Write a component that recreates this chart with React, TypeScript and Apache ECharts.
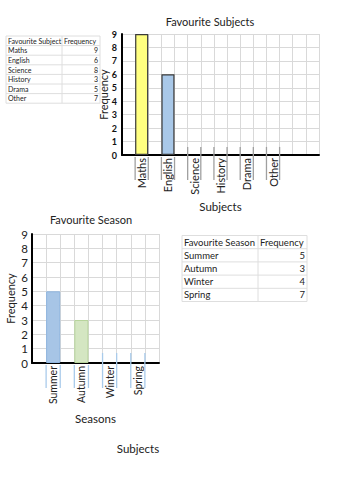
import React, { useEffect, useRef } from "react";
import * as echarts from "echarts";

// ---- Data ----
const subjects = ["Maths", "English", "Science", "History", "Drama", "Other"];
const subjectFrequency = [9, 6, 8, 3, 5, 7];
// bars drawn in the worksheet chart (the rest left blank for pupils)
const subjectBarsDrawn: (number | null)[] = [9, 6, null, null, null, null];
const subjectBarColors = ["#ffff80", "#a9c8e8"];

const seasons = ["Summer", "Autumn", "Winter", "Spring"];
const seasonFrequency = [5, 3, 4, 7];
const seasonBarsDrawn: (number | null)[] = [5, 3, null, null];
const seasonBarColors = ["#a7c5e6", "#d4e6c2"];
const seasonBarBorders = ["#8fb5df", "#b7d49c"];

const FONT = "Lato";

function slotCats(labels: string[], total: number): string[] {
  const arr: string[] = new Array(total).fill("");
  labels.forEach((l, i) => (arr[2 * i + 1] = l));
  return arr;
}

function slotBars(values: (number | null)[], total: number, colors: string[], borders: string[] | null, borderW: number) {
  const arr: any[] = new Array(total).fill("-");
  values.forEach((v, i) => {
    if (v != null) {
      arr[2 * i + 1] = {
        value: v,
        itemStyle: {
          color: colors[i],
          borderColor: borders ? borders[i] : "#3a3a3a",
          borderWidth: borderW,
        },
      };
    }
  });
  return arr;
}

function frameData(values: (number | null)[], above: number) {
  return values.map((v, i) => [2 * i + 1, v != null ? 0 : above]);
}

function frameRender(stroke: string, depth: number, lw: number) {
  return (params: any, api: any) => {
    const slot = api.value(0);
    const ab = api.value(1);
    const top = api.coord([slot, ab]);
    const base = api.coord([slot, 0]);
    const w = api.size([1, 0])[0];
    const xa = base[0] - w / 2;
    const xb = base[0] + w / 2;
    const y0 = ab > 0 ? top[1] : base[1] + 2;
    const y1 = base[1] + depth;
    return {
      type: "group",
      children: [
        { type: "line", shape: { x1: xa, y1: y0, x2: xa, y2: y1 }, style: { stroke, lineWidth: lw } },
        { type: "line", shape: { x1: xb, y1: y0, x2: xb, y2: y1 }, style: { stroke, lineWidth: lw } },
      ],
    };
  };
}

function buildTable(
  x0: number, xSplit: number, x1: number, y0: number, rowH: number, fontSize: number,
  header: [string, string], names: string[], values: number[]
) {
  const children: any[] = [];
  const rows = [header, ...names.map((n, i) => [n, String(values[i])])];
  const n = rows.length;
  for (let r = 0; r <= n; r++) {
    children.push({
      type: "line",
      shape: { x1: x0, y1: y0 + r * rowH, x2: x1, y2: y0 + r * rowH },
      style: { stroke: "#dedede", lineWidth: 1 },
    });
  }
  [x0, xSplit, x1].forEach((x) =>
    children.push({
      type: "line",
      shape: { x1: x, y1: y0, x2: x, y2: y0 + n * rowH },
      style: { stroke: "#dedede", lineWidth: 1 },
    })
  );
  rows.forEach((row, r) => {
    const cy = y0 + r * rowH + rowH / 2;
    children.push({
      type: "text",
      x: x0 + 2,
      y: cy,
      style: { text: row[0], fontSize, fontFamily: FONT, fill: "#222", align: "left", verticalAlign: "middle" },
    });
    children.push({
      type: "text",
      x: r === 0 ? xSplit + 2 : x1 - 2,
      y: cy,
      style: {
        text: row[1], fontSize, fontFamily: FONT, fill: "#222",
        align: r === 0 ? "left" : "right", verticalAlign: "middle",
      },
    });
  });
  return { type: "group", children };
}

export default function App() {
  const ref = useRef<HTMLDivElement>(null);
  useEffect(() => {
    if (!ref.current) return;
    const chart = echarts.init(ref.current, null, { renderer: "svg" });
    const gridLine = { show: true, lineStyle: { color: "#d9d9d9", width: 1 } };
    const option: any = {
      animation: false,
      backgroundColor: "#ffffff",
      textStyle: { fontFamily: FONT },
      title: [
        {
          text: "Favourite Subjects",
          left: 210, top: 16, padding: 0, textAlign: "center",
          textStyle: { fontFamily: FONT, fontSize: 11, fontWeight: "normal", color: "#222" },
        },
        {
          text: "Favourite Season",
          left: 91, top: 214, padding: 0, textAlign: "center",
          textStyle: { fontFamily: FONT, fontSize: 11, fontWeight: "normal", color: "#222" },
        },
      ],
      grid: [
        { left: 122, top: 34, width: 197, height: 121 },
        { left: 32, top: 234, width: 127, height: 129 },
      ],
      xAxis: [
        {
          type: "category", gridIndex: 0,
          data: slotCats(subjects, 15),
          boundaryGap: true,
          name: "Subjects", nameLocation: "middle", nameGap: 45,
          nameMoveOverlap: false,
          nameTextStyle: { fontFamily: FONT, fontSize: 11.5, color: "#222" },
          axisLine: { lineStyle: { color: "#000", width: 2 } },
          axisTick: { show: false },
          splitLine: gridLine,
          axisLabel: { interval: 0, rotate: 90, margin: 3, fontFamily: FONT, fontSize: 11, color: "#222" },
        },
        {
          type: "category", gridIndex: 1,
          data: slotCats(seasons, 9),
          boundaryGap: true,
          name: "Seasons", nameLocation: "middle", nameGap: 49,
          nameMoveOverlap: false,
          nameTextStyle: { fontFamily: FONT, fontSize: 11.5, color: "#222" },
          axisLine: { lineStyle: { color: "#000", width: 2 } },
          axisTick: { show: false },
          splitLine: gridLine,
          axisLabel: { interval: 0, rotate: 90, margin: 3, fontFamily: FONT, fontSize: 10.5, color: "#222" },
        },
      ],
      yAxis: [
        {
          type: "value", gridIndex: 0, min: 0, max: 9, interval: 1,
          name: "Frequency", nameLocation: "middle", nameGap: 13, nameRotate: 90,
          nameMoveOverlap: false,
          nameTextStyle: { fontFamily: FONT, fontSize: 11, color: "#222" },
          axisLine: { show: true, lineStyle: { color: "#000", width: 2 } },
          axisTick: { show: false },
          splitLine: gridLine,
          axisLabel: { margin: 5, fontFamily: FONT, fontSize: 9, fontWeight: "bold", color: "#111" },
        },
        {
          type: "value", gridIndex: 1, min: 0, max: 9, interval: 1,
          name: "Frequency", nameLocation: "middle", nameGap: 16, nameRotate: 90,
          nameMoveOverlap: false,
          nameTextStyle: { fontFamily: FONT, fontSize: 11, color: "#222" },
          axisLine: { show: true, lineStyle: { color: "#000", width: 2 } },
          axisTick: { show: false },
          splitLine: gridLine,
          axisLabel: { margin: 4, fontFamily: FONT, fontSize: 11.5, color: "#222" },
        },
      ],
      series: [
        {
          type: "bar", xAxisIndex: 0, yAxisIndex: 0,
          barWidth: "100%",
          data: slotBars(subjectBarsDrawn, 15, subjectBarColors, null, 1.2),
          z: 3,
        },
        {
          type: "custom", xAxisIndex: 0, yAxisIndex: 0,
          data: frameData(subjectBarsDrawn, 0.6),
          renderItem: frameRender("#a0a0a0", 25, 1.3),
          z: 2, silent: true,
        },
        {
          type: "bar", xAxisIndex: 1, yAxisIndex: 1,
          barWidth: "100%",
          data: slotBars(seasonBarsDrawn, 9, seasonBarColors, seasonBarBorders, 1),
          z: 3,
        },
        {
          type: "custom", xAxisIndex: 1, yAxisIndex: 1,
          data: frameData(seasonBarsDrawn, 0.7),
          renderItem: frameRender("#a9cbeb", 25, 1.3),
          z: 2, silent: true,
        },
      ],
      graphic: [
        buildTable(6, 62, 100, 36, 9.6, 7, ["Favourite Subject", "Frequency"], subjects, subjectFrequency),
        buildTable(182, 258, 307, 235.5, 13.2, 9.5, ["Favourite Season", "Frequency"], seasons, seasonFrequency),
        {
          type: "text", x: 138, y: 448,
          style: { text: "Subjects", fontFamily: FONT, fontSize: 11.5, fill: "#222", align: "center", verticalAlign: "middle" },
        },
      ],
    };
    chart.setOption(option);
    return () => chart.dispose();
  }, []);
  return (
    <div
      ref={ref}
      style={{ position: "absolute", left: 0, top: 0, width: 346, height: 500, background: "#fff" }}
    />
  );
}
